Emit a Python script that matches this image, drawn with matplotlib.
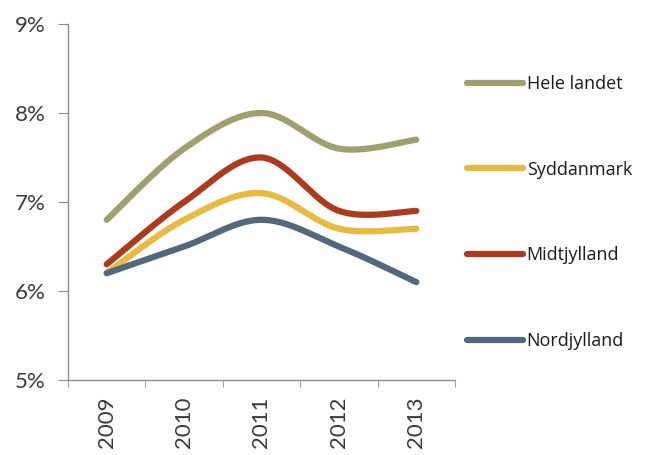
import numpy as np
import matplotlib
matplotlib.use("Agg")
import matplotlib.pyplot as plt
from matplotlib.ticker import FixedLocator, FuncFormatter

years = ["2009", "2010", "2011", "2012", "2013"]
hele_landet = [6.8, 7.6, 8.0, 7.6, 7.7]
syddanmark = [6.2, 6.8, 7.1, 6.7, 6.7]
midtjylland = [6.3, 7.0, 7.5, 6.9, 6.9]
nordjylland = [6.2, 6.5, 6.8, 6.5, 6.1]

series = [
    ("Hele landet", hele_landet, "#A09F6E"),
    ("Syddanmark", syddanmark, "#E8BA3F"),
    ("Midtjylland", midtjylland, "#AE3A1E"),
    ("Nordjylland", nordjylland, "#52687D"),
]


def smooth(xs, ys, n=40):
    # Catmull-Rom style smoothing (like spreadsheet "smoothed line")
    xs = np.asarray(xs, float)
    ys = np.asarray(ys, float)
    px = np.concatenate([[xs[0]], xs, [xs[-1]]])
    py = np.concatenate([[ys[0]], ys, [ys[-1]]])
    outx, outy = [], []
    for i in range(1, len(px) - 2):
        p0x, p1x, p2x, p3x = px[i - 1], px[i], px[i + 1], px[i + 2]
        p0y, p1y, p2y, p3y = py[i - 1], py[i], py[i + 1], py[i + 2]
        c1x = p1x + (p2x - p0x) / 6
        c1y = p1y + (p2y - p0y) / 6
        c2x = p2x - (p3x - p1x) / 6
        c2y = p2y - (p3y - p1y) / 6
        t = np.linspace(0, 1, n)
        bx = (1 - t) ** 3 * p1x + 3 * (1 - t) ** 2 * t * c1x + 3 * (1 - t) * t ** 2 * c2x + t ** 3 * p2x
        by = (1 - t) ** 3 * p1y + 3 * (1 - t) ** 2 * t * c1y + 3 * (1 - t) * t ** 2 * c2y + t ** 3 * p2y
        outx.extend(bx)
        outy.extend(by)
    return np.array(outx), np.array(outy)


fig = plt.figure(figsize=(6.46, 4.55), dpi=100)
W, H = 646, 455
ax = fig.add_axes([68 / W, 1 - 380 / H, (455 - 68) / W, (380 - 24) / H])

x = np.arange(len(years))
for name, vals, col in series:
    sx, sy = smooth(x, vals)
    ax.plot(sx, sy, color=col, lw=4.5, solid_capstyle="round", label=name)

ax.set_xlim(-0.5, len(years) - 0.5)
ax.set_ylim(5, 9)
ax.set_yticks([5, 6, 7, 8, 9])
ax.yaxis.set_major_formatter(FuncFormatter(lambda v, p: f"{v:.0f}%"))
ax.set_xticks(x)
ax.set_xticklabels(years, rotation=90)
ax.xaxis.set_minor_locator(FixedLocator(np.arange(-0.5, len(years), 1.0)))

for s in ["top", "right"]:
    ax.spines[s].set_visible(False)
for s in ["left", "bottom"]:
    ax.spines[s].set_color("#8C8C8C")
    ax.spines[s].set_linewidth(1.0)

ax.tick_params(axis="y", length=7, color="#8C8C8C", pad=9, labelcolor="#3a3a3a")
ax.tick_params(axis="x", which="major", length=0, pad=12, labelcolor="#3a3a3a")
ax.tick_params(axis="x", which="minor", length=5, color="#8C8C8C")
for lab in ax.get_yticklabels() + ax.get_xticklabels():
    lab.set_fontfamily(["Lato", "DejaVu Sans"])
    lab.set_fontweight("normal")
    lab.set_fontsize(16)

leg = fig.legend(
    loc="upper left",
    bbox_to_anchor=(467 / W, 1 - 75 / H),
    frameon=False,
    prop={"family": ["Open Sans", "DejaVu Sans"], "size": 13},
    labelspacing=3.75,
    handlelength=3.1,
    handletextpad=0.2,
    borderaxespad=0,
    borderpad=0,
)
for t in leg.get_texts():
    t.set_color("#1a1a1a")

fig.savefig("out.png", dpi=100)
